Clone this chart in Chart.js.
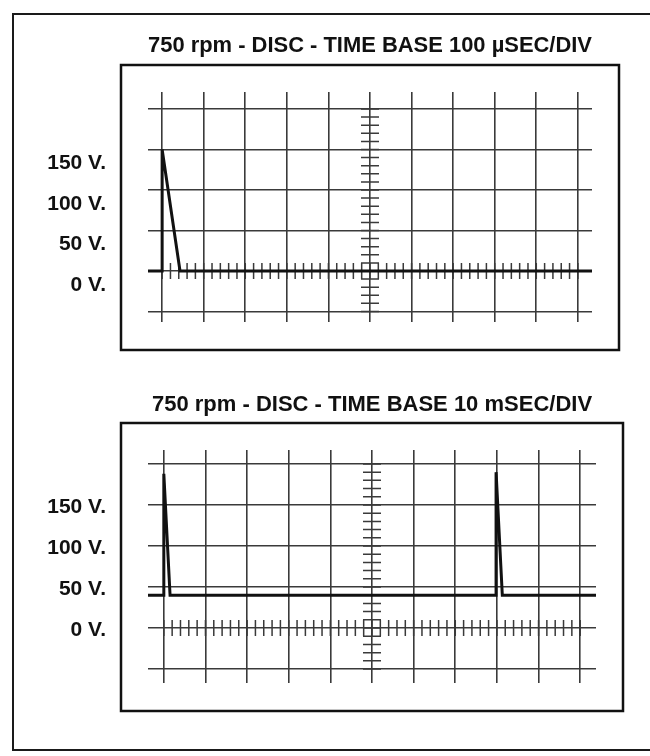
<!DOCTYPE html>
<html>
<head>
<meta charset="utf-8">
<title>750 rpm - DISC</title>
<script src="https://cdn.jsdelivr.net/npm/chart.js@4.4.1/dist/chart.umd.min.js"></script>
<style>
  html, body { margin: 0; padding: 0; background: #fff; overflow: hidden; }
  body { width: 650px; height: 756px; position: relative; }
  #frame { position: absolute; left: 12px; top: 13px; width: 700px; height: 734px; border: 2px solid #1a1a1a; }
  canvas { position: absolute; left: 0; }
  #fastScope { top: 0; }
  #slowScope { top: 360px; }
</style>
</head>
<body>
<div id="frame"></div>
<canvas id="fastScope" width="650" height="360"></canvas>
<canvas id="slowScope" width="650" height="396"></canvas>
<script>
// graticule: 10 horizontal divisions, volts at 50 V per division
const divisions = [0, 1, 2, 3, 4, 5, 6, 7, 8, 9, 10];
const voltTicks = [-50, 0, 50, 100, 150, 200];
const voltLabels = ['', '0 V.', '50 V.', '100 V.', '150 V.', ''];
const minorPerDiv = 5;
const centreDivision = 5;

const titles = [
    '750 rpm - DISC - TIME BASE 100 \u00b5SEC/DIV',
    '750 rpm - DISC - TIME BASE 10 mSEC/DIV'
];

// trace at 100 uSEC/DIV (time in divisions, volts)
const fastTime = [-0.34, 0, 0, 0.43, 10.34];
const fastVolts = [0, 0, 150, 0, 0];

// trace at 10 mSEC/DIV
const slowTime = [-0.38, 0, 0, 0.15, 7.98, 7.98, 8.13, 10.38];
const slowVolts = [40, 40, 188, 40, 40, 190, 40, 40];

const FONT = '"Liberation Sans", Arial, Helvetica, sans-serif';
const GRID = '#3a3a3a';

// no extra room for labels, the chart area is set by the layout padding only
function noPadding(s) {
    s.paddingTop = 0;
    s.paddingBottom = 0;
    s.paddingLeft = 0;
    s.paddingRight = 0;
}

// minor ticks on the centre lines + the bezel box around the screen
const graticule = {
    id: 'graticule',
    beforeDatasetsDraw(chart) {
        const { ctx, scales: { x, y } } = chart;
        const cx = x.getPixelForValue(centreDivision);
        const cy = y.getPixelForValue(0);
        ctx.save();
        ctx.strokeStyle = GRID;
        ctx.lineWidth = 1.5;
        ctx.beginPath();
        for (let i = 0; i <= (divisions.length - 1) * minorPerDiv; i++) {
            const px = x.getPixelForValue(divisions[0] + i / minorPerDiv);
            ctx.moveTo(px, cy - 8);
            ctx.lineTo(px, cy + 8);
        }
        const step = (voltTicks[1] - voltTicks[0]) / minorPerDiv;
        for (let i = 0; i <= (voltTicks.length - 1) * minorPerDiv; i++) {
            const py = y.getPixelForValue(voltTicks[0] + i * step);
            ctx.moveTo(cx - 9, py);
            ctx.lineTo(cx + 9, py);
        }
        ctx.stroke();
        ctx.restore();
    },
    afterDraw(chart) {
        const { ctx, chartArea: a } = chart;
        ctx.save();
        ctx.strokeStyle = '#111';
        ctx.lineWidth = 2.5;
        ctx.strokeRect(a.left - 27, a.top - 27, a.width + 54, a.height + 55);
        ctx.restore();
    }
};

function buildScope(canvasId, title, times, volts, lay) {
    return new Chart(document.getElementById(canvasId), {
        type: 'line',
        data: {
            datasets: [{
                data: times.map((t, i) => ({ x: t, y: volts[i] })),
                borderColor: '#111',
                borderWidth: 3,
                pointRadius: 0,
                tension: 0,
                fill: false
            }]
        },
        options: {
            responsive: false,
            animation: false,
            events: [],
            layout: { padding: { top: 0, left: 0, right: lay.right, bottom: lay.bottom } },
            plugins: {
                legend: { display: false },
                tooltip: { enabled: false },
                title: {
                    display: true,
                    text: title,
                    fullSize: false,
                    color: '#111',
                    font: { family: FONT, size: 22, weight: 'bold', lineHeight: 1.2 },
                    padding: { top: lay.titleTop, bottom: lay.titleBottom }
                }
            },
            scales: {
                x: {
                    type: 'linear',
                    min: lay.xMin,
                    max: lay.xMax,
                    afterBuildTicks: s => { s.ticks = divisions.map(v => ({ value: v })); },
                    afterFit: s => { s.height = 0; noPadding(s); },
                    ticks: { display: false },
                    grid: { color: GRID, lineWidth: 1.6, drawTicks: false },
                    border: { display: false }
                },
                y: {
                    type: 'linear',
                    min: lay.yMin,
                    max: lay.yMax,
                    afterBuildTicks: s => { s.ticks = voltTicks.map(v => ({ value: v })); },
                    afterFit: s => { s.width = 148; noPadding(s); },
                    ticks: {
                        autoSkip: false,
                        callback: (v, i) => voltLabels[i],
                        padding: 42,
                        labelOffset: lay.labelShift,
                        color: '#111',
                        font: { family: FONT, size: 21, weight: 'bold' }
                    },
                    grid: { color: GRID, lineWidth: 1.6, drawTicks: false },
                    border: { display: false }
                }
            }
        },
        plugins: [graticule]
    });
}

buildScope('fastScope', titles[0], fastTime, fastVolts, {
    right: 58, bottom: 38, titleTop: 32.8, titleBottom: 32.8,
    xMin: -0.34, xMax: 10.34, yMin: -63, yMax: 221, labelShift: 14
});

buildScope('slowScope', titles[1], slowTime, slowVolts, {
    right: 54, bottom: 73, titleTop: 31.8, titleBottom: 31.8,
    xMin: -0.38, xMax: 10.38, yMin: -67, yMax: 217, labelShift: 2
});
</script>
</body>
</html>
